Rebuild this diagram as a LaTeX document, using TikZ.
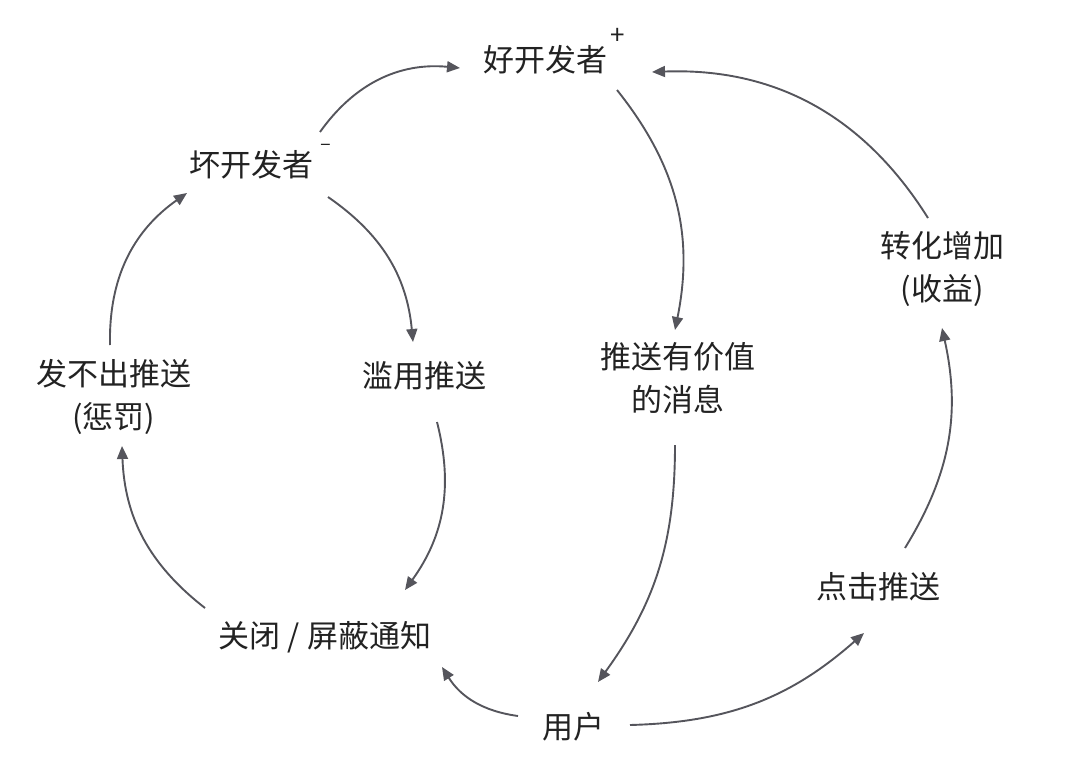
\documentclass[tikz,border=0pt]{standalone}
\usepackage{fontspec}
\newfontfamily\cjk{Noto Sans CJK SC}
\usetikzlibrary{arrows.meta}
\definecolor{arr}{HTML}{55555C}
\definecolor{txt}{HTML}{222222}
\begin{document}
\begin{tikzpicture}[x=1pt,y=1pt,
  lbl/.style={font=\cjk\fontsize{31}{43}\selectfont, text=txt, align=center, inner sep=0pt},
  sup/.style={font=\cjk\fontsize{26}{26}\selectfont, text=txt, inner sep=0pt},
  link/.style={draw=arr, line width=1.9pt, -{Triangle[length=13pt,width=11pt]}}]
\useasboundingbox (0,0) rectangle (1066,-776);
\node[lbl] (good) at (545,-60) {好开发者};
\node[sup] (gplus) at (618,-36) {+};
\node[lbl] (bad) at (251,-165) {坏开发者};
\node[sup, font=\cjk\fontsize{20}{20}\selectfont] (bminus) at (326,-147) {–};
\node[lbl] (abuse) at (424,-376) {滥用推送};
\node[lbl] (punish) at (114,-397) {发不出推送\\(惩罚)};
\node[lbl] (valuable) at (678,-378) {推送有价值\\的消息};
\node[lbl] (revenue) at (942,-269) {转化增加\\(收益)};
\node[lbl] (click) at (878,-587) {点击推送};
\node[lbl] (close) at (325,-637) {关闭 / 屏蔽通知};
\node[lbl] (user) at (573,-727) {用户};
% arrow end points
\coordinate (a1s) at (320,-132); \coordinate (a1e) at (460,-68);
\coordinate (a2s) at (617,-90);  \coordinate (a2e) at (675,-330);
\coordinate (a3s) at (928,-218); \coordinate (a3e) at (652,-72);
\coordinate (a4s) at (328,-197); \coordinate (a4e) at (413,-342);
\coordinate (a5s) at (110,-345); \coordinate (a5e) at (187,-193);
\coordinate (a6s) at (437,-422); \coordinate (a6e) at (405,-590);
\coordinate (a7s) at (205,-608); \coordinate (a7e) at (122,-446);
\coordinate (a8s) at (675,-445); \coordinate (a8e) at (598,-682);
\coordinate (a9s) at (518,-716); \coordinate (a9e) at (442,-667);
\coordinate (a10s) at (630,-725); \coordinate (a10e) at (864,-633);
\coordinate (a11s) at (905,-548); \coordinate (a11e) at (942,-328);
\draw[link] (a1s) to[bend left=30] (a1e);
\draw[link] (a2s) to[bend left=25] (a2e);
\draw[link] (a3s) to[bend right=30] (a3e);
\draw[link] (a4s) to[bend left=25] (a4e);
\draw[link] (a5s) to[bend left=28] (a5e);
\draw[link] (a6s) to[bend left=25] (a6e);
\draw[link] (a7s) to[bend left=25] (a7e);
\draw[link] (a8s) to[bend left=18] (a8e);
\draw[link] (a9s) to[bend left=25] (a9e);
\draw[link] (a10s) to[bend right=20] (a10e);
\draw[link] (a11s) to[bend right=22] (a11e);
\end{tikzpicture}
\end{document}
